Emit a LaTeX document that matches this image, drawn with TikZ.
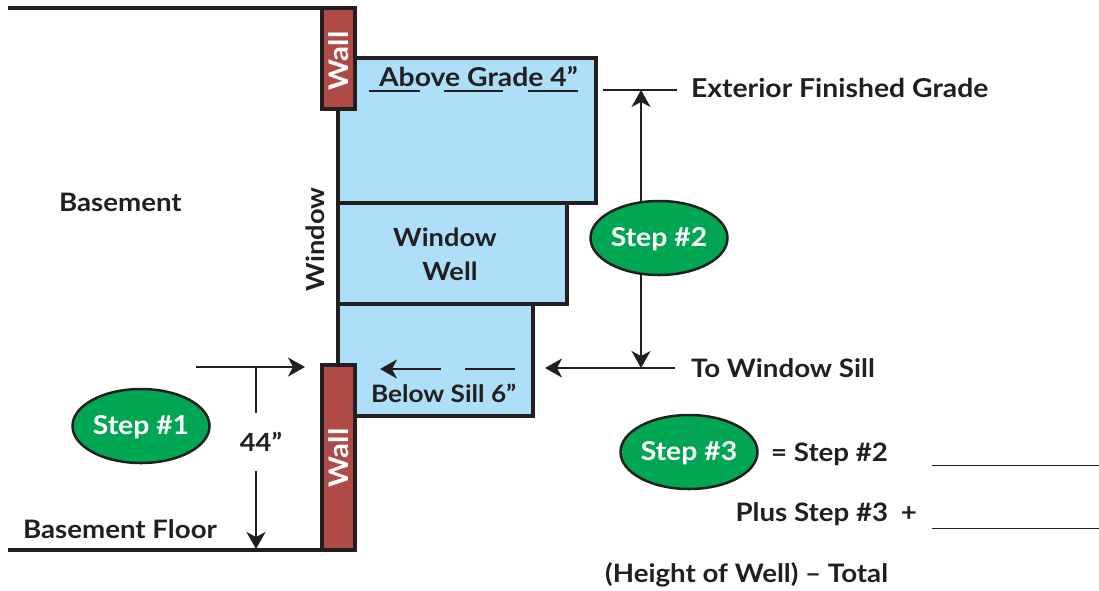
\documentclass[tikz,border=0pt]{standalone}
\usepackage{fontspec}
\setmainfont{Lato}[UprightFont=* Bold,BoldFont=* Bold,FakeStretch=1.09]
\usetikzlibrary{arrows.meta,shapes.geometric}
\definecolor{ink}{HTML}{231F20}
\definecolor{sky}{HTML}{ADDFF9}
\definecolor{brick}{HTML}{B04A47}
\definecolor{leaf}{HTML}{00A651}
\tikzset{
  x=1pt,y=-1pt,
  lab/.style={font=\fontsize{25.4}{26}\selectfont,text=ink,inner sep=0pt,outer sep=0pt,anchor=base west},
  labbig/.style={lab,font=\fontsize{26}{26}\selectfont},
  labsmall/.style={lab,font=\fontsize{24}{26}\selectfont},
  labr/.style={lab,anchor=base east},
  labc/.style={lab,anchor=base,font=\fontsize{25}{26}\selectfont},
  well/.style={rectangle,draw=ink,fill=sky,line width=4pt,inner sep=0pt,outer sep=0pt,anchor=north west},
  wallbox/.style={rectangle,draw=ink,fill=brick,line width=4pt,inner sep=0pt,outer sep=0pt,minimum width=33pt,anchor=north west},
  walltext/.style={font=\fontsize{27}{27}\selectfont,text=white,rotate=90,inner sep=0pt},
  stepoval/.style={ellipse,draw=ink,fill=leaf,line width=2.5pt,inner sep=0pt,outer sep=0pt,minimum width=137pt,minimum height=74pt,text=white,font=\fontsize{26}{26}\selectfont,text height=22pt,text depth=5pt},
  floorline/.style={draw=ink,line width=4pt},
  dim/.style={draw=ink,line width=2pt},
  arr/.style={dim,-{Stealth[length=17pt,width=19pt,inset=5pt]}},
  blank/.style={draw=ink,line width=1pt}
}
\begin{document}
\begin{tikzpicture}
\useasboundingbox (0,0) rectangle (1099,590);
% floors
\coordinate (topstart) at (8,8);
\coordinate (topend) at (322,8);
\coordinate (floorstart) at (8,550);
\coordinate (floorend) at (322,550);
\draw[floorline] (topstart) -- (topend);
\draw[floorline] (floorstart) -- (floorend);
% well
\node[well,minimum width=258pt,minimum height=145pt] (wellA) at (338,58) {};
\node[well,minimum width=229pt,minimum height=101pt] (wellB) at (338,203) {};
\node[well,minimum width=195pt,minimum height=112pt] (wellC) at (338,304) {};
% walls
\node[wallbox,minimum height=101pt] (wallA) at (322,8) {};
\node[wallbox,minimum height=185pt] (wallB) at (322,365) {};
\node[walltext] (wallAt) at (339,61) {Wall};
\node[walltext] (wallBt) at (339,458) {Wall};
% ovals
\node[stepoval] (s1) at (141,426) {Step \#1};
\node[stepoval] (s2) at (659,238) {Step \#2};
\node[stepoval] (s3) at (689,452) {Step \#3};
% labels
\node[labbig] (tAbove) at (379,86) {Above Grade 4"};
\node[labbig] (tExt) at (691,97) {Exterior Finished Grade};
\node[lab] (tBase) at (59,211) {Basement};
\node[lab,rotate=90,font=\fontsize{25}{26}\selectfont] (tWin) at (324,291) {Window};
\node[labc] (tWW1) at (445,246) {Window};
\node[labc] (tWW2) at (450,280) {Well};
\node[lab] (tSill) at (691,377) {To Window Sill};
\node[labsmall] (tBelow) at (371,402) {Below Sill 6"};
\node[labc] (t44) at (261,451) {44"};
\node[lab] (tFloor) at (23,538) {Basement Floor};
\node[labr] (tEq) at (888,461) {= Step \#2};
\node[labr] (tPlus) at (917,521) {Plus Step \#3\hspace{6pt} +};
\node[labr] (tTot) at (888,582) {(Height of Well) – Total};
% dashes above grade
\coordinate (a1) at (369,91); \coordinate (a2) at (420,91);
\coordinate (a3) at (444,91); \coordinate (a4) at (503,91);
\coordinate (a5) at (528,91); \coordinate (a6) at (578,91);
\draw[dim] (a1) -- (a2);
\draw[dim] (a3) -- (a4);
\draw[dim] (a5) -- (a6);
% grade and step 2 dimension
\coordinate (g1) at (603,90); \coordinate (g2) at (677,90);
\coordinate (gm) at (641,90);
\coordinate (sm) at (641,368);
\coordinate (sr) at (675,368);
\coordinate (sl) at (545,368);
\draw[dim] (g1) -- (g2);
\draw[arr] (sr) -- (sl);
\draw[arr] (s2.north -| gm) -- (gm);
\draw[arr] (s2.south -| sm) -- (sm);
% below sill
\coordinate (b1) at (441,369); \coordinate (b2) at (380,369);
\coordinate (b3) at (465,369); \coordinate (b4) at (515,369);
\draw[arr] (b1) -- (b2);
\draw[dim] (b3) -- (b4);
% 44 dimension
\coordinate (c1) at (196,367); \coordinate (c2) at (305,367);
\coordinate (cm) at (256,367);
\coordinate (cu) at (256,413); \coordinate (cd) at (256,471); \coordinate (cf) at (256,549);
\draw[arr] (c1) -- (c2);
\draw[dim] (cm) -- (cu);
\draw[arr] (cd) -- (cf);
% blanks
\coordinate (l1) at (932,465); \coordinate (l2) at (1099,465);
\coordinate (l3) at (932,528); \coordinate (l4) at (1099,528);
\draw[blank] (l1) -- (l2);
\draw[blank] (l3) -- (l4);
\end{tikzpicture}
\end{document}
